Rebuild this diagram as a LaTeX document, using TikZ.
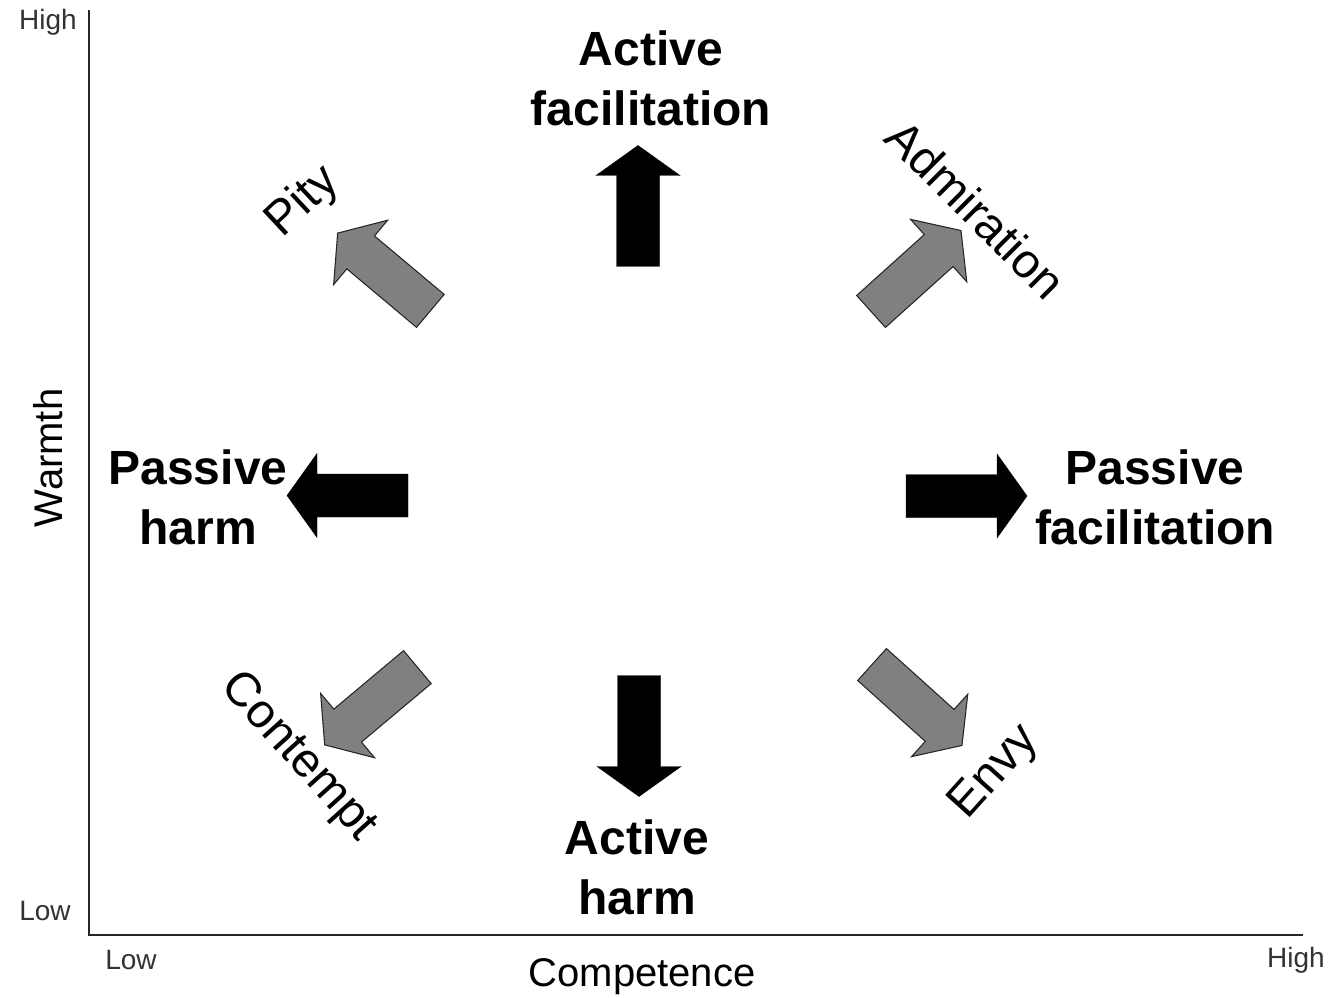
\documentclass[tikz,border=0pt]{standalone}
\usepackage{fontspec}
\setmainfont{Liberation Sans}
\tikzset{
  blackarr/.style={fill=black, draw=black, line width=0.3pt},
  grayarr/.style={fill=gray, draw=black!85, line width=0.8pt},
  behav/.style={font=\fontsize{36}{45}\selectfont\bfseries, align=center, inner sep=0pt},
  feel/.style={font=\fontsize{36}{43}\selectfont, inner sep=0pt},
  axlabel/.style={font=\fontsize{30}{36}\selectfont, inner sep=0pt},
  ticklabel/.style={font=\fontsize{21}{25}\selectfont, text=black!80, inner sep=0pt},
}
% block arrow: style, centre, angle
\newcommand{\blockarrow}[3]{%
  \draw[#1, shift={#2}, rotate=#3] (-60.5,-21.5) -- (30.5,-21.5) -- (30.5,-42) -- (60.5,0) -- (30.5,42) -- (30.5,21.5) -- (-60.5,21.5) -- cycle;}
\begin{document}
\begin{tikzpicture}[x=0.75pt, y=0.75pt]
\useasboundingbox (0,0) rectangle (1333,997);
%AXES
  \coordinate (top) at (89,987);
  \coordinate (origin) at (89,62);
  \coordinate (right) at (1303,62);
  \draw[black!85, line width=1.1pt] (top) -- (origin) -- (right);
  \node (yhigh) at (48,975) [ticklabel] {High};
  \node (ylow) at (45,86) [ticklabel] {Low};
  \node (xlow) at (131,37) [ticklabel] {Low};
  \node (xhigh) at (1296,37) [ticklabel] {High};
  \node (warmth) at (48,539) [axlabel, rotate=90] {Warmth};
  \node (competence) at (642,20) [axlabel] {Competence};

%BEHAVIOURS
  \blockarrow{blackarr}{(638,791)}{90}
  \blockarrow{blackarr}{(639,261)}{-90}
  \blockarrow{blackarr}{(347.5,501.5)}{180}
  \blockarrow{blackarr}{(966.5,501)}{0}
  \node (actfac) at (651,919) [behav] {Active\\facilitation};
  \node (actharm) at (637,130) [behav] {Active\\harm};
  \node (pasharm) at (198,500) [behav] {Passive\\harm};
  \node (pasfac) at (1155,500) [behav] {Passive\\facilitation};

%EMOTIONS
  \blockarrow{grayarr}{(384,725)}{140}
  \blockarrow{grayarr}{(916,726)}{42}
  \blockarrow{grayarr}{(371,291)}{220}
  \blockarrow{grayarr}{(917,292)}{-42}
  \node (pity) at (303,795) [feel, rotate=43] {Pity};
  \node (admiration) at (976,788) [feel, rotate=-45] {Admiration};
  \node (contempt) at (298,240) [feel, rotate=-48] {Contempt};
  \node (envy) at (995,224) [feel, rotate=48] {Envy};
\end{tikzpicture}
\end{document}
